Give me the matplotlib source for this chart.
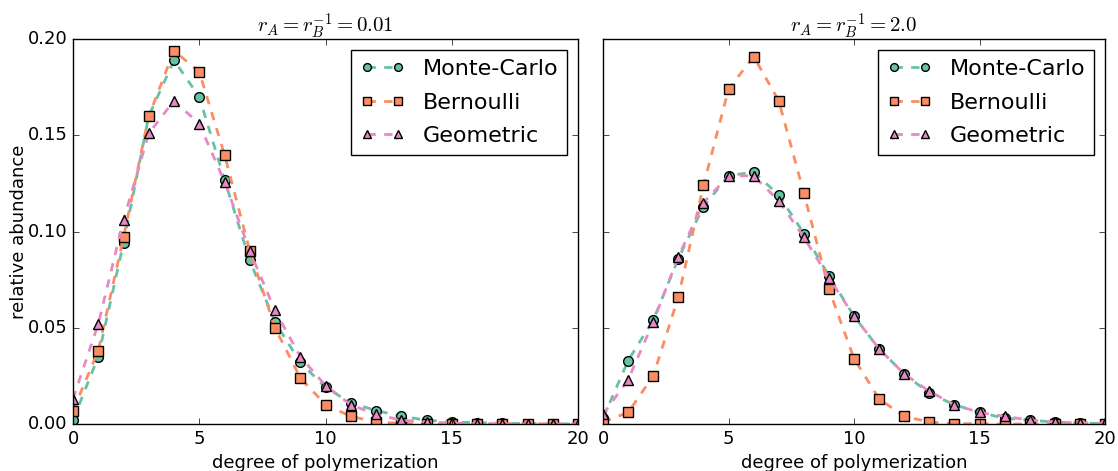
import numpy as np
import matplotlib
matplotlib.use("Agg")
import matplotlib.pyplot as plt

# ---------- DATA ----------
dp = list(range(21))

# r_A = r_B^-1 = 0.01
mc_low = [0.002, 0.035, 0.094, 0.160, 0.189, 0.170, 0.127, 0.085, 0.053, 0.032, 0.019,
          0.011, 0.007, 0.004, 0.002, 0.001, 0.0007, 0.0004, 0.0002, 0.0001, 0.0]
bern_low = [0.007, 0.038, 0.097, 0.160, 0.194, 0.183, 0.140, 0.090, 0.050, 0.024, 0.010,
            0.004, 0.001, 0.0003, 0.0001, 0.0, 0.0, 0.0, 0.0, 0.0, 0.0]
geo_low = [0.013, 0.052, 0.106, 0.151, 0.168, 0.156, 0.126, 0.090, 0.059, 0.035, 0.020,
           0.010, 0.005, 0.002, 0.001, 0.0005, 0.0002, 0.0001, 0.0, 0.0, 0.0]

# r_A = r_B^-1 = 2.0
mc_high = [0.003, 0.033, 0.054, 0.086, 0.113, 0.129, 0.131, 0.119, 0.099, 0.077, 0.056,
           0.039, 0.026, 0.016, 0.010, 0.006, 0.003, 0.002, 0.001, 0.0005, 0.0002]
bern_high = [0.001, 0.006, 0.025, 0.066, 0.124, 0.174, 0.191, 0.168, 0.120, 0.070, 0.034,
             0.013, 0.004, 0.001, 0.0002, 0.0001, 0.0, 0.0, 0.0, 0.0, 0.0]
geo_high = [0.005, 0.023, 0.053, 0.087, 0.115, 0.129, 0.129, 0.116, 0.097, 0.076, 0.056,
            0.039, 0.026, 0.017, 0.010, 0.006, 0.004, 0.002, 0.001, 0.0006, 0.0003]

titles = [r"$r_A = r_B^{-1} = 0.01$", r"$r_A = r_B^{-1} = 2.0$"]
labels = ["Monte-Carlo", "Bernoulli", "Geometric"]
colors = ["#66c2a5", "#fc8d62", "#e78ac3"]
markers = ["o", "s", "^"]

# ---------- PLOT ----------
plt.style.use("classic")
plt.rcParams["figure.facecolor"] = "white"
plt.rcParams["savefig.facecolor"] = "white"
plt.rcParams["font.family"] = ["DejaVu Sans"]
plt.rcParams["mathtext.fontset"] = "cm"

fig = plt.figure(figsize=(11.18, 4.71), dpi=100)
ax1 = fig.add_axes([0.0653, 0.0998, 0.4517, 0.817])
ax2 = fig.add_axes([0.5394, 0.0998, 0.449, 0.817], sharey=ax1)

panels = [(ax1, [mc_low, bern_low, geo_low]), (ax2, [mc_high, bern_high, geo_high])]
for i, (ax, series) in enumerate(panels):
    for ys, lab, c, m in zip(series, labels, colors, markers):
        ax.plot(dp, ys, linestyle="--", color=c, lw=2, marker=m, markersize=7,
                markerfacecolor=c, markeredgecolor="black", markeredgewidth=1,
                label=lab)
    ax.set_xlim(0, 20)
    ax.set_ylim(0, 0.2)
    ax.set_xticks([0, 5, 10, 15, 20])
    ax.set_yticks([0.0, 0.05, 0.10, 0.15, 0.20])
    ax.tick_params(labelsize=13)
    ax.set_xlabel("degree of polymerization", fontsize=13)
    ax.set_title(titles[i], fontsize=15)
    leg = ax.legend(loc="upper right", fontsize=16, numpoints=2, handlelength=2.0,
                    markerscale=0.8, borderaxespad=0.5, labelspacing=0.6)
    leg.get_frame().set_edgecolor("black")

ax1.set_yticklabels(["0.00", "0.05", "0.10", "0.15", "0.20"])
ax1.set_ylabel("relative abundance", fontsize=13, labelpad=0)
plt.setp(ax2.get_yticklabels(), visible=False)

fig.savefig("out.png", dpi=100)
